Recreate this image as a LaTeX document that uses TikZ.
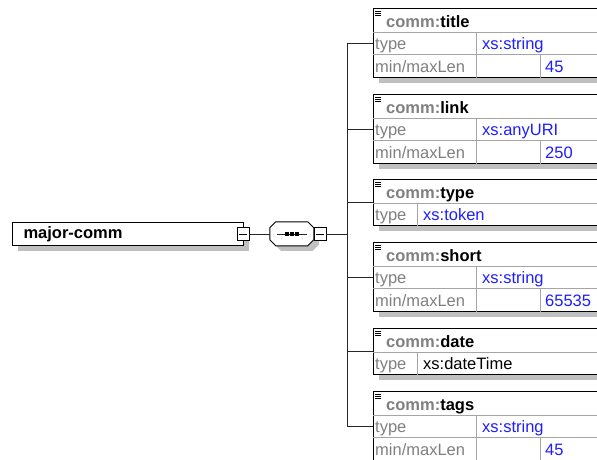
\documentclass[tikz,border=0pt]{standalone}
\usepackage{fontspec}
\setmainfont{Liberation Sans}
\usetikzlibrary{shadows}

\definecolor{shadowgray}{RGB}{192,192,192}
\definecolor{labelgray}{RGB}{128,128,128}
\definecolor{rulegray}{RGB}{165,165,165}
\definecolor{valblue}{RGB}{30,30,255}

% Element box with three rows: name, top, element, type, max length
\newcommand\elemthree[5]{%
  \node[elembox, minimum height=69pt] (#1) at (373,#2) {};
  \draw[divider] ([yshift=-24pt]#1.north west) -- ([yshift=-24pt]#1.north east);
  \draw[divider] ([yshift=-46.5pt]#1.north west) -- ([yshift=-46.5pt]#1.north east);
  \draw[divider] ([shift={(103.7,24)}]#1.north west) -- ([xshift=103.7pt]#1.south west);
  \draw[divider] ([shift={(167,46.5)}]#1.north west) -- ([xshift=167pt]#1.south west);
  \foreach \k in {3.5,5.5,7.5}
    \draw[iconline] ([shift={(2,\k)}]#1.north west) -- ++(6,0);
  \node[hdr] (#1h) at ([shift={(13,19.3)}]#1.north west) {\textcolor{labelgray}{comm:}#3};
  \node[lbl] (#1t) at ([shift={(2,41)}]#1.north west) {type};
  \node[val] (#1v) at ([shift={(109,41)}]#1.north west) {#4};
  \node[lbl] (#1m) at ([shift={(2,64.2)}]#1.north west) {min/maxLen};
  \node[val] (#1n) at ([shift={(172,64.2)}]#1.north west) {#5};
}
% Element box with two rows: name, top, element, colour, type
\newcommand\elemtwo[5]{%
  \node[elembox, minimum height=46pt] (#1) at (373,#2) {};
  \draw[divider] ([yshift=-24pt]#1.north west) -- ([yshift=-24pt]#1.north east);
  \draw[divider] ([shift={(44,24)}]#1.north west) -- ([xshift=44pt]#1.south west);
  \foreach \k in {3.5,5.5,7.5}
    \draw[iconline] ([shift={(2,\k)}]#1.north west) -- ++(6,0);
  \node[hdr] (#1h) at ([shift={(13,19.3)}]#1.north west) {\textcolor{labelgray}{comm:}#3};
  \node[lbl] (#1t) at ([shift={(2,41)}]#1.north west) {type};
  \node[val, text=#4] (#1v) at ([shift={(50,41)}]#1.north west) {#5};
}

\begin{document}
\begin{tikzpicture}[x=1pt, y=-1pt,
    boxshadow/.style={drop shadow={shadow xshift=5pt, shadow yshift=-5pt, fill=shadowgray, opacity=1}},
    rootbox/.style={draw, line width=1.1pt, fill=white, boxshadow, anchor=west,
        font=\fontsize{16.5}{19}\selectfont\bfseries, text width=209pt, align=left,
        inner xsep=11pt, inner ysep=0pt, minimum height=23pt},
    minusbox/.style={draw, line width=0.9pt, fill=white, minimum width=12pt, minimum height=13pt, inner sep=0pt,
        path picture={\draw[line width=1pt] ([xshift=-4pt]path picture bounding box.center)
            -- ([xshift=4pt]path picture bounding box.center);}},
    seqbox/.style={minimum width=44pt, minimum height=24pt, inner sep=0pt},
    elembox/.style={draw, line width=1.1pt, fill=white, boxshadow, anchor=north west,
        minimum width=240pt, inner sep=0pt},
    divider/.style={rulegray, line width=0.8pt},
    iconline/.style={line width=0.6pt},
    hdr/.style={anchor=base west, inner sep=0pt, font=\fontsize{16.5}{19}\selectfont\bfseries},
    lbl/.style={anchor=base west, inner sep=0pt, text=labelgray, font=\fontsize{16.5}{19}\selectfont},
    val/.style={anchor=base west, inner sep=0pt, text=valblue, font=\fontsize{16.5}{19}\selectfont},
    wire/.style={line width=1pt, black!85}]
\path[use as bounding box, clip] (0,0) rectangle (597,460);

% Nodes
\node[rootbox] (ROOT) at (12,234) {major-comm};
\node[seqbox] (SEQ) at (292,234) {};
\node[minusbox] (MINa) at (243,234) {};

% Sequence outline (shadow first)
\begin{scope}[shift={(SEQ.north west)}]
  \fill[shadowgray] (11,5) -- (43,5) -- (49,11) -- (49,23) -- (43,29) -- (11,29) -- (5,23) -- (5,11) -- cycle;
  \filldraw[fill=white, line width=0.9pt] (6,0) -- (38,0) -- (44,6) -- (44,18) -- (38,24) -- (6,24) -- (0,18) -- (0,6) -- cycle;
\end{scope}
\draw[wire] ([xshift=-15pt]SEQ.center) -- ([xshift=15pt]SEQ.center);
\foreach \d in {-5,0,5}
  \fill ([xshift=\d pt]SEQ.center) ++(-1.8,-1.8) rectangle ++(3.6,3.6);

\node[minusbox] (MINb) at (320,234) {};
\coordinate (TRUNK) at (347,234);

\elemthree{TITLE}{8}{title}{xs:string}{45}
\elemthree{LINK}{94}{link}{xs:anyURI}{250}
\elemtwo{TYPE}{179}{type}{valblue}{xs:token}
\elemthree{SHORT}{242}{short}{xs:string}{65535}
\elemtwo{DATE}{328}{date}{black}{xs:dateTime}
\elemthree{TAGS}{391}{tags}{xs:string}{45}

% Connections
\draw[wire] (MINa) -- (SEQ);
\draw[wire] (MINb) -- (TRUNK);
\draw[wire] (TRUNK |- TITLE.west) -- (TRUNK |- TAGS.west);
\foreach \n in {TITLE,LINK,TYPE,SHORT,DATE,TAGS}
  \draw[wire] (TRUNK |- \n.west) -- (\n.west);
\end{tikzpicture}
\end{document}
